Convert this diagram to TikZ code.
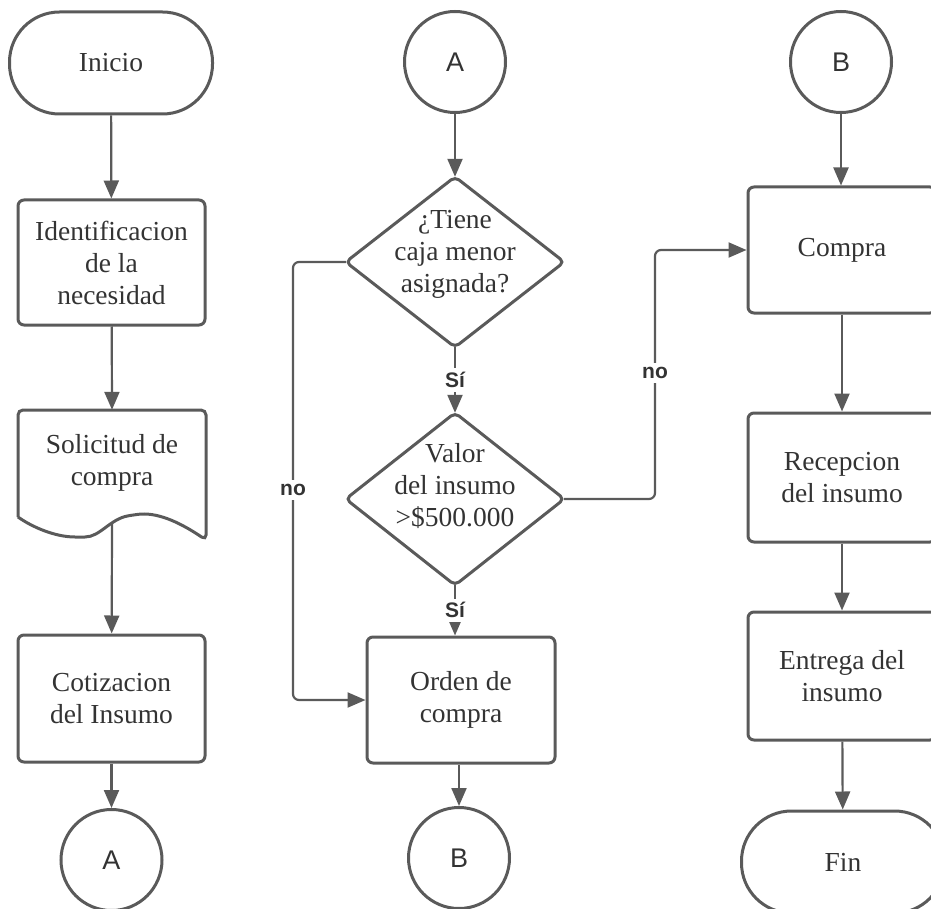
\documentclass[tikz,border=0pt]{standalone}
\usepackage{fontspec}
\setmainfont{Liberation Serif}
\newfontfamily\labelfont{Liberation Sans}
\usetikzlibrary{arrows.meta}
\definecolor{ln}{HTML}{5A5A5A}
\definecolor{tx}{HTML}{333333}
\begin{document}
\begin{tikzpicture}[x=1pt,y=-1pt,
  every node/.style={text=tx, font=\fontsize{27.5}{32}\selectfont, align=center, inner sep=0pt},
  proc/.style={draw=ln, line width=3pt, rounded corners=6pt, minimum width=188pt, minimum height=126pt},
  term/.style={draw=ln, line width=3pt, rounded corners=50pt, minimum width=203pt, minimum height=102pt},
  conn/.style={draw=ln, line width=3pt, circle, minimum size=101pt, font=\labelfont\fontsize{27}{30}\selectfont},
  dec/.style={minimum width=218pt, minimum height=170pt},
  shapeline/.style={draw=ln, line width=3pt, rounded corners=5pt},
  arr/.style={draw=ln, line width=2.2pt, -{Triangle[length=18pt,width=15pt]}},
  lbl/.style={fill=white, text=tx, font=\labelfont\bfseries\fontsize{21}{24}\selectfont, inner sep=4pt}]
\useasboundingbox (0,0) rectangle (931,909);

% left column
\node[term] (inicio) at (111,63) {Inicio};
\node[proc, minimum width=187pt, minimum height=125pt] (ident) at (111.5,262.5) {Identificacion\\de la\\necesidad};
\node[minimum width=188pt, minimum height=106pt] (sol) at (112,463) {Solicitud de\\compra};
\draw[shapeline] (18,517) -- (18,410) -- (206,410) -- (206,540)
  .. controls (178,521) and (156,512) .. (133,515)
  .. controls (110,519) and (100,537) .. (80,537)
  .. controls (55,537) and (32,527) .. (18,517);
\coordinate (solb) at (112,522);
\node[proc, minimum width=187pt, minimum height=127pt] (cot) at (111.5,698.5) {Cotizacion\\del Insumo};
\node[conn] (a1) at (111.5,860) {A};

\draw[arr] (inicio) -- (ident);
\draw[arr] (ident) -- (sol.north);
\draw[arr] (solb) -- (cot);
\draw[arr] (cot) -- (a1);

% right column nodes
\node[conn] (b1) at (841,62) {B};
\node[proc] (compra) at (842,250) {Compra};
\node[proc, minimum height=129pt] (rec) at (842,477.5) {Recepcion\\del insumo};
\node[proc, minimum height=128pt] (ent) at (842,676) {Entrega del\\insumo};
\node[term] (fin) at (843,862) {Fin};

% middle column
\node[conn] (a2) at (455,62) {A};
\node[dec] (d1) at (455,262) {};
\draw[shapeline] (d1.north) -- (d1.east) -- (d1.south) -- (d1.west) -- cycle;
\node (d1t) at (455,254) {¿Tiene\\caja menor\\asignada?};
\node[dec, minimum height=172pt] (d2) at (455,499) {};
\draw[shapeline] (d2.north) -- (d2.east) -- (d2.south) -- (d2.west) -- cycle;
\node (d2t) at (455,486) {Valor\\del insumo\\>\$500.000};
\node[proc] (orden) at (461,700) {Orden de\\compra};
\node[conn] (b2) at (459,858) {B};

\draw[arr] (a2) -- (d1.north);
\draw[arr] (d1.south) -- node[lbl] (si1) {Sí} (d2.north);
\draw[arr] (d2.south) -- node[lbl] (si2) {Sí} (d2.south |- orden.north);
\draw[arr] (orden.south -| b2) -- (b2);

\coordinate (nl) at (293,480);
\draw[arr, rounded corners=6pt] (d1.west) -| (nl) |- (orden.west);
\node[lbl] (nol) at (293,490) {no};

\coordinate (nr) at (655,375);
\draw[arr, rounded corners=6pt] (d2.east) -| (nr) |- (compra.west);
\node[lbl] (nor) at (655,373) {no};

% right column connectors
\draw[arr] (b1) -- (b1 |- compra.north);
\draw[arr] (compra) -- (rec);
\draw[arr] (rec) -- (ent);
\draw[arr] (ent) -- (fin);
\end{tikzpicture}
\end{document}
